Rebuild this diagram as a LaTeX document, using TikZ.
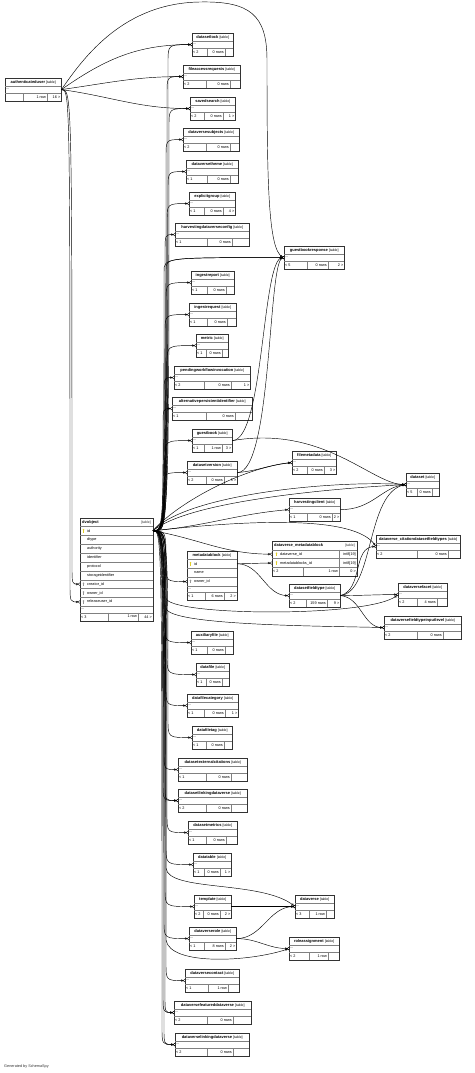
\documentclass[tikz,border=0pt]{standalone}
\usepackage{fontspec}
\setmainfont{Liberation Sans}
\usetikzlibrary{arrows.meta,calc}

\definecolor{pkcol}{RGB}{226,206,40}
\definecolor{fkcol}{RGB}{150,150,150}

\tikzset{
  tblbox/.style={draw=black!80, line width=0.45pt, fill=white, inner sep=0pt, anchor=north west, minimum height=22.7pt},
  rowline/.style={draw=black!50, line width=0.3pt},
  ttl/.style={font=\fontsize{4}{4.5}\selectfont\bfseries, inner sep=0pt},
  tag/.style={font=\fontsize{3.5}{4}\selectfont, inner sep=0pt, text=black!80},
  txt/.style={font=\fontsize{3.8}{4.3}\selectfont, inner sep=0pt},
  fk/.style={draw=black, line width=0.45pt, line join=round,
    -{Circle[open,length=2.2pt,width=2.2pt,line width=0.4pt] Straight Barb[reversed,length=1.6pt,width=2.8pt,line width=0.4pt]}},
}

% table with a title row, a "..." row and a footer of three cells
\newcommand{\tbl}[9]{%
  \node[tblbox, minimum width=#3pt] (#1) at #2 {};
  \draw[rowline] ([yshift=-8.3pt]#1.north west) -- ([yshift=-8.3pt]#1.north east)
    ([yshift=8pt]#1.south west) -- ([yshift=8pt]#1.south east)
    ([xshift=#4pt]#1.south west) -- ++(0,8pt)
    ([xshift=#5pt]#1.south west) -- ++(0,8pt);
  \node[ttl] (#1-title) at ([yshift=-4.3pt]#1.north) {#6 {\mdseries\fontsize{3.5}{4}\selectfont[table]}};
  \node[txt, anchor=west] (#1-dots) at ([xshift=1pt,yshift=-11.5pt]#1.north west) {...};
  \node[txt, anchor=west] (#1-lo) at ([xshift=1pt,yshift=4pt]#1.south west) {#7};
  \node[txt, anchor=east] (#1-rows) at ([xshift=#5pt-1pt,yshift=4pt]#1.south west) {#8};
  \node[txt, anchor=east] (#1-hi) at ([xshift=-1pt,yshift=4pt]#1.south east) {#9};
}

% key icon in front of a column
\newcommand{\keyicon}[2]{%
  \fill[#2] ($#1+(0,1)$) circle (0.9pt);
  \draw[#2, line width=0.5pt] ($#1+(0,1)$) -- ++(0,-2.8);
}

% connector that runs up or down a bus line and bends into its table
\newcommand{\bus}[4]{%
  \draw[fk] let \p1=(#1), \p2=(#2) in (\p1) .. controls (#3,\y1) .. (#3,\y2#4) .. controls (#3,\y2) .. (\p2);
}

\begin{document}
\begin{tikzpicture}[x=1pt,y=1pt]
\useasboundingbox (0,0) rectangle (474,-1073);

\tbl{authenticateduser}{(5,-78)}{56}{18}{42}{authenticateduser}{}{1 row}{16 >}
\tbl{datasetlock}{(192,-33)}{41}{15}{33}{datasetlock}{< 2}{0 rows}{}
\tbl{fileaccessrequests}{(183,-65)}{57}{23}{47}{fileaccessrequests}{< 2}{0 rows}{}
\tbl{savedsearch}{(190,-97)}{45}{14}{33}{savedsearch}{< 2}{0 rows}{1 >}
\tbl{dataversesubjects}{(183,-128)}{56}{23}{47}{dataversesubjects}{< 2}{0 rows}{}
\tbl{dataversetheme}{(186,-160)}{52}{21}{44}{dataversetheme}{< 1}{0 rows}{}
\tbl{explicitgroup}{(189,-192)}{46}{15}{34}{explicitgroup}{< 1}{0 rows}{4 >}
\tbl{harvestingdataverseconfig}{(175,-223)}{74}{32}{57}{harvestingdataverseconfig}{< 1}{0 rows}{}
\tbl{guestbookresponse}{(284,-246)}{60}{23}{44}{guestbookresponse}{< 5}{0 rows}{2 >}
\tbl{ingestreport}{(191,-271)}{43}{16}{35}{ingestreport}{< 1}{0 rows}{}
\tbl{ingestrequest}{(189,-303)}{47}{18}{38}{ingestrequest}{< 1}{0 rows}{}
\tbl{metric}{(196,-334)}{32}{10}{26}{metric}{< 1}{0 rows}{}
\tbl{pendingworkflowinvocation}{(174,-366)}{76}{30}{57}{pendingworkflowinvocation}{< 2}{0 rows}{1 >}
\tbl{altpersistentid}{(172,-397)}{80}{34}{63}{alternativepersistentidentifier}{< 1}{0 rows}{}
\tbl{guestbook}{(192,-429)}{40}{12}{30}{guestbook}{< 1}{1 row}{3 >}
\tbl{datasetversion}{(187,-461)}{50}{19}{37}{datasetversion}{< 2}{0 rows}{5 >}
\tbl{filemetadata}{(292,-451)}{44}{15}{32}{filemetadata}{< 2}{0 rows}{3 >}
\tbl{dataset}{(406,-473)}{33}{11}{26}{dataset}{< 5}{0 rows}{}
\tbl{harvestingclient}{(289,-498)}{51}{18}{43}{harvestingclient}{< 1}{0 rows}{2 >}
\tbl{dvcite}{(376,-535)}{84}{41}{72}{dataverse\_citationdatasetfieldtypes}{< 2}{0 rows}{}
\tbl{datasetfieldtype}{(289,-584)}{51}{17}{38}{datasetfieldtype}{< 2}{159 rows}{9 >}
\tbl{dataversefacet}{(398,-583)}{49}{19}{39}{dataversefacet}{< 2}{4 rows}{}
\tbl{dvfieldinput}{(384,-616)}{77}{33}{59}{dataversefieldtypeinputlevel}{< 2}{0 rows}{}
\tbl{auxiliaryfile}{(191,-631)}{42}{16}{34}{auxiliaryfile}{< 1}{0 rows}{}
\tbl{datafile}{(196,-663)}{33}{10}{26}{datafile}{< 1}{0 rows}{}
\tbl{datafilecategory}{(187,-694)}{51}{17}{38}{datafilecategory}{< 1}{0 rows}{1 >}
\tbl{datafiletag}{(192,-726)}{40}{14}{32}{datafiletag}{< 1}{0 rows}{}
\tbl{datasetextcitations}{(178,-758)}{69}{28}{53}{datasetexternalcitations}{< 1}{0 rows}{}
\tbl{datasetlinkingdataverse}{(178,-789)}{69}{28}{53}{datasetlinkingdataverse}{< 2}{0 rows}{}
\tbl{datasetmetrics}{(188,-821)}{49}{18}{38}{datasetmetrics}{< 1}{0 rows}{}
\tbl{datatable}{(193,-853)}{38}{11}{27}{datatable}{< 1}{0 rows}{1 >}
\tbl{template}{(194,-895)}{37}{9}{26}{template}{< 2}{0 rows}{2 >}
\tbl{dataverse}{(295,-895)}{39}{14}{31}{dataverse}{< 3}{1 row}{}
\tbl{dataverserole}{(189,-927)}{47}{15}{36}{dataverserole}{< 1}{8 rows}{2 >}
\tbl{roleassignment}{(289,-937)}{50}{20}{39}{roleassignment}{< 2}{1 row}{}
\tbl{dataversecontact}{(185,-969)}{54}{23}{43}{dataversecontact}{< 1}{1 row}{}
\tbl{featureddataverse}{(174,-1001)}{77}{33}{59}{dataversefeatureddataverse}{< 2}{0 rows}{}
\tbl{linkingdataverse}{(175,-1033)}{74}{32}{58}{dataverselinkingdataverse}{< 2}{0 rows}{}

% dvobject
\node[tblbox, minimum width=73pt, minimum height=102.7pt] (dvobject) at (80,-518) {};
\foreach \y in {526.3,535.2,544.1,553,561.9,570.8,579.7,588.6,597.5,606.4,612.7}
  \draw[rowline] (80,-\y) -- (153,-\y);
\draw[rowline] (108,-612.7) -- (108,-620.7) (138,-612.7) -- (138,-620.7);
\node[ttl, anchor=west] (dvobject-title) at (82,-522.3) {dvobject};
\node[tag, anchor=east] (dvobject-tag) at (151,-522.3) {[table]};
\foreach \t [count=\i] in {id,dtype,authority,identifier,protocol,storageidentifier,creator\_id,owner\_id,releaseuser\_id}
  \node[txt, anchor=west] (dvrow\i) at (87,{-526.3-8.9*(\i-0.5)}) {\t};
\keyicon{(83.5,-530.75)}{pkcol}
\keyicon{(83.5,-584.15)}{fkcol}
\keyicon{(83.5,-593.05)}{fkcol}
\keyicon{(83.5,-601.95)}{fkcol}
\node[txt, anchor=west] (dvobject-dots) at (81,-609.5) {...};
\node[txt, anchor=west] (dvobject-lo) at (81,-616.7) {< 3};
\node[txt, anchor=east] (dvobject-rows) at (137,-616.7) {1 row};
\node[txt, anchor=east] (dvobject-hi) at (152,-616.7) {44 >};
\coordinate (dvhub) at (153,-530.75);
\coordinate (dvcreator) at (80,-584.15);
\coordinate (dvrelease) at (80,-601.95);

% metadatablock
\node[tblbox, minimum width=50pt, minimum height=49.3pt] (metadatablock) at (187,-551) {};
\foreach \y in {559.3,568.2,577.1,586,592.3}
  \draw[rowline] (187,-\y) -- (237,-\y);
\draw[rowline] (205,-592.3) -- (205,-600.3) (224,-592.3) -- (224,-600.3);
\node[ttl] (metadatablock-title) at (212,-555.2) {metadatablock {\mdseries\fontsize{3.5}{4}\selectfont[table]}};
\node[txt, anchor=west] (mbrow1) at (194,-563.75) {id};
\node[txt, anchor=west] (mbrow2) at (194,-572.65) {name};
\node[txt, anchor=west] (mbrow3) at (194,-581.55) {owner\_id};
\keyicon{(190.5,-563.75)}{pkcol}
\keyicon{(190.5,-581.55)}{fkcol}
\node[txt, anchor=west] (metadatablock-dots) at (188,-589.2) {...};
\node[txt, anchor=west] (metadatablock-lo) at (188,-596.3) {< 1};
\node[txt, anchor=east] (metadatablock-rows) at (223,-596.3) {6 rows};
\node[txt, anchor=east] (metadatablock-hi) at (236,-596.3) {2 >};
\coordinate (mbid) at (237,-563.75);
\coordinate (mbowner) at (187,-581.55);

% dataverse_metadatablock
\node[tblbox, line width=1pt, minimum width=85pt, minimum height=34.6pt] (dvmeta) at (272,-541) {};
\foreach \y in {549.7,558.6,567.5}
  \draw[rowline] (272,-\y) -- (357,-\y);
\draw[rowline] (339,-549.7) -- (339,-575.6) (303,-567.5) -- (303,-575.6);
\node[ttl, anchor=west] (dvmeta-title) at (274,-545.35) {dataverse\_metadatablock};
\node[tag, anchor=east] (dvmeta-tag) at (355,-545.35) {[table]};
\node[txt, anchor=west] (dmrow1) at (280,-554.15) {dataverse\_id};
\node[txt, anchor=west] (dmrow2) at (280,-563.05) {metadatablocks\_id};
\node[txt, anchor=east] (dmtype1) at (356,-554.15) {int8[19]};
\node[txt, anchor=east] (dmtype2) at (356,-563.05) {int8[19]};
\keyicon{(276.5,-554.15)}{pkcol}
\keyicon{(276.5,-563.05)}{pkcol}
\node[txt, anchor=west] (dvmeta-lo) at (273,-571.55) {< 2};
\node[txt, anchor=east] (dvmeta-rows) at (338,-571.55) {1 row};
\node[txt, anchor=east] (dvmeta-hi) at (356,-571.55) {0 >};
\coordinate (dmdv) at (272,-554.15);
\coordinate (dmmb) at (272,-563.05);

\node[txt, anchor=west, text=black!80] (credit) at (4,-1066.5) {Generated by SchemaSpy};

% authenticateduser
\draw[fk] (authenticateduser.east) to[out=35,in=180] (datasetlock.west);
\draw[fk] (authenticateduser.east) to[out=8,in=180] (fileaccessrequests.west);
\draw[fk] (authenticateduser.east) to[out=-8,in=180] (savedsearch.west);
\draw[fk] (authenticateduser.east) .. controls (85,-55) and (125,-3) .. (200,-2) .. controls (250,-1) and (267,-15) .. (267,-60) .. controls (267,-180) and (268,-250) .. (guestbookresponse.west);
\bus{authenticateduser.east}{dvcreator}{72}{+18}
\bus{authenticateduser.east}{dvrelease}{70}{+18}

% dvobject up
\bus{dvhub}{datasetlock.west}{168}{-18}
\bus{dvhub}{fileaccessrequests.west}{167}{-18}
\bus{dvhub}{savedsearch.west}{169}{-18}
\bus{dvhub}{dataversesubjects.west}{166}{-18}
\bus{dvhub}{dataversetheme.west}{168}{-18}
\bus{dvhub}{explicitgroup.west}{167}{-18}
\bus{dvhub}{harvestingdataverseconfig.west}{165}{-18}
\bus{dvhub}{guestbookresponse.west}{164}{-14}
\bus{dvhub}{guestbookresponse.west}{166}{-12}
\bus{dvhub}{ingestreport.west}{166}{-18}
\bus{dvhub}{ingestrequest.west}{165}{-18}
\bus{dvhub}{metric.west}{167}{-18}
\bus{dvhub}{pendingworkflowinvocation.west}{164}{-18}
\bus{dvhub}{altpersistentid.west}{163}{-18}
\bus{dvhub}{guestbook.west}{165}{-18}
\bus{dvhub}{datasetversion.west}{164}{-14}

% dvobject to the right
\draw[fk] (dvhub) .. controls (175,-505) and (240,-468) .. (filemetadata.west);
\draw[fk] (dvhub) .. controls (185,-495) and (330,-480) .. (dataset.west);
\draw[fk] (dvhub) .. controls (190,-500) and (340,-488) .. (dataset.west);
\draw[fk] (dvhub) to[out=5,in=185] (harvestingclient.west);
\draw[fk] (dvhub) .. controls (250,-520) and (355,-515) .. (dvcite.west);
\draw[fk] (dvhub) to[out=-10,in=180] (dmdv);
\draw[fk] (dvhub) .. controls (166,-531) .. (166,-598) .. controls (168,-616) and (370,-618) .. (dataversefacet.west);
\draw[fk] (dvhub) .. controls (166,-531) .. (166,-608) .. controls (168,-626) and (330,-626) .. (dvfieldinput.west);

% dvobject down
\bus{dvhub}{mbowner}{166}{+18}
\bus{dvhub}{auxiliaryfile.west}{165}{+18}
\bus{dvhub}{datafile.west}{167}{+18}
\bus{dvhub}{datafilecategory.west}{166}{+18}
\bus{dvhub}{datafiletag.west}{168}{+18}
\bus{dvhub}{datasetextcitations.west}{164}{+18}
\bus{dvhub}{datasetlinkingdataverse.west}{163}{+18}
\bus{dvhub}{datasetlinkingdataverse.west}{165}{+16}
\bus{dvhub}{datasetmetrics.west}{167}{+18}
\bus{dvhub}{datatable.west}{166}{+18}
\draw[fk] (dvhub) .. controls (166,-531) .. (166,-868) .. controls (168,-892) and (262,-880) .. (dataverse.west);
\bus{dvhub}{template.west}{165}{+18}
\bus{dvhub}{dataverserole.west}{164}{+18}
\draw[fk] (dvhub) .. controls (166,-531) .. (166,-940) .. controls (170,-966) and (250,-962) .. (roleassignment.west);
\bus{dvhub}{dataversecontact.west}{166}{+18}
\bus{dvhub}{featureddataverse.west}{163}{+18}
\bus{dvhub}{featureddataverse.west}{165}{+16}
\bus{dvhub}{linkingdataverse.west}{162}{+18}
\bus{dvhub}{linkingdataverse.west}{164}{+16}

% other tables
\draw[fk] (guestbook.east) .. controls (264,-440) and (262,-258) .. (guestbookresponse.west);
\draw[fk] (datasetversion.east) .. controls (272,-472) and (268,-262) .. (guestbookresponse.west);
\draw[fk] (guestbook.east) .. controls (325,-425) and (372,-485) .. (dataset.west);
\draw[fk] (datasetversion.east) to[out=5,in=185] (filemetadata.west);
\draw[fk] (harvestingclient.east) .. controls (372,-510) and (382,-487) .. (dataset.west);
\draw[fk] (datasetfieldtype.east) .. controls (374,-592) and (366,-492) .. (dataset.west);
\draw[fk] (datasetfieldtype.east) to[out=15,in=180] (dvcite.west);
\draw[fk] (datasetfieldtype.east) to[out=0,in=180] (dataversefacet.west);
\draw[fk] (datasetfieldtype.east) to[out=-5,in=180] (dvfieldinput.west);
\draw[fk] (mbid) to[out=0,in=180] (datasetfieldtype.west);
\draw[fk] (mbid) to[out=0,in=180] (dmmb);
\draw[fk] (template.east) -- (dataverse.west);
\draw[fk] (dataverserole.east) to[out=0,in=180] (dataverse.west);
\draw[fk] (dataverserole.east) to[out=0,in=180] (roleassignment.west);
\end{tikzpicture}
\end{document}
